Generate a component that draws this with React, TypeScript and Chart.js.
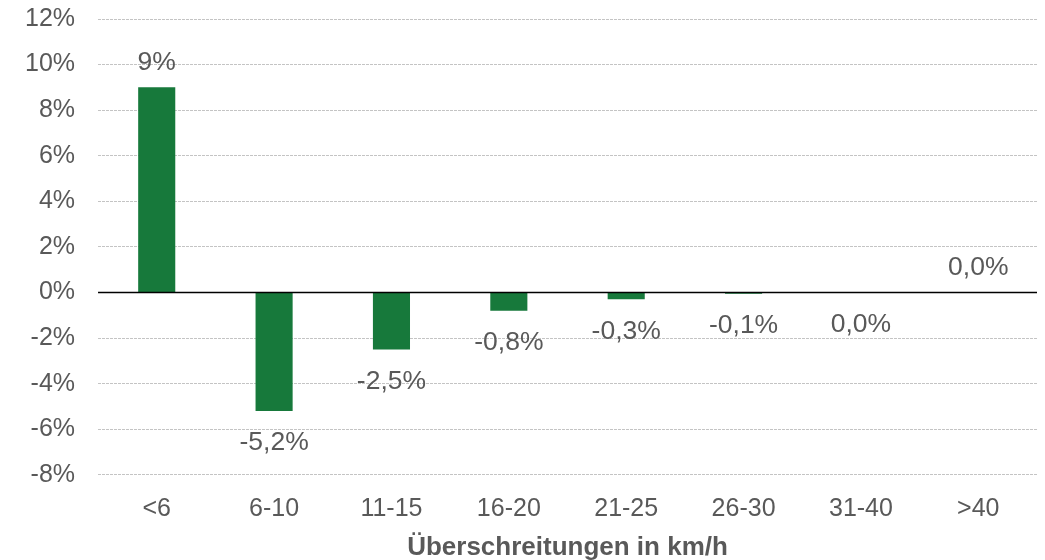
import React, { useEffect, useRef } from "react";
import { Chart, registerables } from "chart.js";

Chart.register(...registerables);

const categories = ["<6", "6-10", "11-15", "16-20", "21-25", "26-30", "31-40", ">40"];
const values = [9, -5.2, -2.5, -0.8, -0.3, -0.06, -0.02, 0];
const valueLabels = ["9%", "-5,2%", "-2,5%", "-0,8%", "-0,3%", "-0,1%", "0,0%", "0,0%"];
const yMin = -8;
const yMax = 12;
const yStep = 2;
const xTitle = "Überschreitungen in km/h";

const FONT = "'Liberation Sans', Arial, sans-serif";
const TEXT = "#595959";
const SHIFT = 19;

const labelPlugin = {
  id: "valueLabels",
  afterDatasetsDraw(chart: any) {
    const { ctx, chartArea, scales } = chart;
    const y0 = scales.y.getPixelForValue(0);
    ctx.save();
    ctx.strokeStyle = "#000000";
    ctx.lineWidth = 1.5;
    ctx.beginPath();
    ctx.moveTo(chartArea.left, y0);
    ctx.lineTo(chartArea.right, y0);
    ctx.stroke();
    const meta = chart.getDatasetMeta(0);
    ctx.font = `26.5px ${FONT}`;
    ctx.fillStyle = TEXT;
    ctx.textAlign = "center";
    ctx.textBaseline = "middle";
    meta.data.forEach((el: any, i: number) => {
      const v = values[i];
      const yPix = el.y;
      const cy = v >= 0 ? Math.min(yPix, y0) - 25 : Math.max(yPix, y0) + 32;
      ctx.fillText(valueLabels[i], el.x, cy);
    });
    ctx.restore();
  },
};

export default function App() {
  const ref = useRef<HTMLCanvasElement | null>(null);
  useEffect(() => {
    document.body.style.margin = "0";
    const chart = new Chart(ref.current as HTMLCanvasElement, {
      type: "bar",
      data: {
        labels: categories,
        datasets: [
          {
            data: values,
            backgroundColor: "#17793b",
            categoryPercentage: 1,
            barPercentage: 0.316,
          },
        ],
      },
      options: {
        responsive: false,
        animation: false,
        layout: { padding: { left: 2, right: 8, top: 0, bottom: -3 } },
        plugins: { legend: { display: false }, tooltip: { enabled: false } },
        scales: {
          x: {
            grid: { display: false, drawTicks: false },
            border: { display: false },
            ticks: { color: TEXT, font: { family: FONT, size: 25 }, padding: 19 },
            title: {
              display: true,
              text: xTitle,
              color: TEXT,
              font: { family: FONT, size: 26, weight: "bold" },
              padding: { top: -11, bottom: 0 },
            },
          },
          y: {
            min: yMin,
            max: yMax,
            grid: {
              color: (c: any) => (c.tick && c.tick.value === 0 ? "rgba(0,0,0,0)" : "#c4c4c4"),
              lineWidth: 1,
              drawTicks: false,
            },
            border: { display: false, dash: [3, 1] },
            ticks: {
              stepSize: yStep,
              color: TEXT,
              font: { family: FONT, size: 25 },
              padding: 23,
              callback: (v: any) => `${v}%`,
            },
          },
        },
      },
      plugins: [labelPlugin],
    });
    return () => chart.destroy();
  }, []);
  return (
    <div style={{ width: 1045, height: 560, overflow: "hidden" }}>
      <canvas
        ref={ref}
        width={1045}
        height={560 + SHIFT}
        style={{ display: "block", marginTop: -SHIFT }}
      />
    </div>
  );
}
